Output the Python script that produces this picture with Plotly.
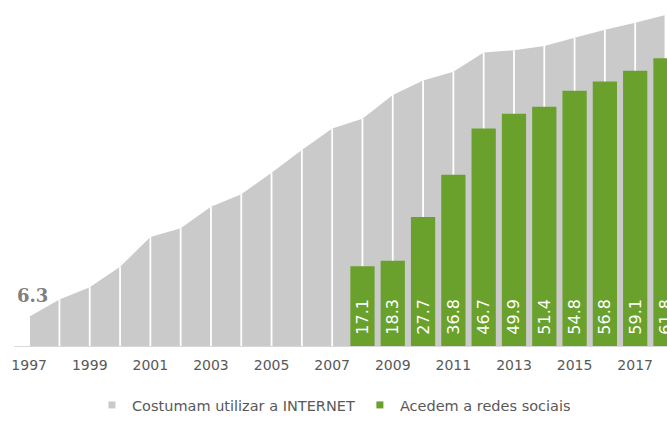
import plotly.graph_objects as go

years = list(range(1997, 2019))
internet = [6.3, 10.0, 12.6, 17.0, 23.4, 25.3, 29.9, 32.6, 37.2, 42.1, 46.7,
            48.8, 53.9, 57.0, 58.9, 63.0, 63.5, 64.4, 66.2, 67.9, 69.4, 71.1]
social_years = list(range(2008, 2019))
social = [17.1, 18.3, 27.7, 36.8, 46.7, 49.9, 51.4, 54.8, 56.8, 59.1, 61.8]
tick_years = list(range(1997, 2019, 2))

name_internet = "Costumam utilizar a INTERNET"
name_social = "Acedem a redes sociais"

grey = "#cacaca"
green = "#69a12c"
txt = "#595959"
y_range = [0, 74.3]

fig = go.Figure()

# grey area
fig.add_trace(go.Scatter(x=years, y=internet, mode="none", fill="tozeroy",
                         fillcolor=grey, showlegend=False, hoverinfo="skip"))

# white drop lines at each year
lx, ly = [], []
for yr, v in zip(years, internet):
    lx += [yr, yr, None]
    ly += [0, v, None]
fig.add_trace(go.Scatter(x=lx, y=ly, mode="lines",
                         line=dict(color="white", width=1.8),
                         showlegend=False, hoverinfo="skip"))

# green bars (on an overlaying axis so they sit above the area)
fig.add_trace(go.Bar(x=social_years, y=social, width=0.8, marker_color=green,
                     marker_line_width=0, yaxis="y2",
                     text=["\u00a0\u2009" + f"{v:.1f}" for v in social],
                     textposition="inside", insidetextanchor="start",
                     textangle=-90, cliponaxis=True,
                     textfont=dict(color="white", size=16, family="DejaVu Sans"),
                     showlegend=False))

# legend entries
fig.add_trace(go.Scatter(x=[None], y=[None], mode="markers", name=name_internet,
                         marker=dict(symbol="square", size=7, color=grey)))
fig.add_trace(go.Scatter(x=[None], y=[None], mode="markers", name=name_social,
                         marker=dict(symbol="square", size=7, color=green)))

fig.add_annotation(x=years[0], y=internet[0], text=f"<b>{internet[0]}</b>",
                   showarrow=False, yshift=21, xshift=3,
                   font=dict(family="DejaVu Serif", size=18, color="#7f7f7f"))

fig.update_layout(
    template="none",
    width=667, height=421,
    margin=dict(l=14, r=0, t=0, b=71, pad=0),
    paper_bgcolor="white", plot_bgcolor="white",
    font=dict(family="DejaVu Sans", size=13, color=txt),
    uniformtext=dict(minsize=16, mode="show"),
    legend=dict(orientation="h", x=0.49, xanchor="center", y=-0.171,
                yanchor="middle", font=dict(size=14.5, color=txt),
                itemwidth=30, tracegroupgap=0, bgcolor="rgba(0,0,0,0)"),
    xaxis=dict(range=[1996.5, 2018.05], tickvals=tick_years,
               ticktext=[str(y) for y in tick_years], showgrid=False,
               zeroline=False, showline=True, linecolor="#d9d9d9",
               linewidth=1, ticks="outside", ticklen=6,
               tickcolor="rgba(0,0,0,0)", automargin=False,
               tickfont=dict(size=14, color=txt)),
    yaxis=dict(range=y_range, visible=False, showgrid=False, zeroline=False,
               automargin=False),
    yaxis2=dict(range=y_range, visible=False, showgrid=False, zeroline=False,
                overlaying="y", automargin=False),
)

fig.write_html("out.html", config={"displayModeBar": False},
               post_script="document.body.style.margin='0';"
                           "document.body.style.overflow='hidden';"
                           "document.body.style.height='421px';"
                           "document.documentElement.style.overflow='hidden';"
                           "document.documentElement.style.height='421px';")
